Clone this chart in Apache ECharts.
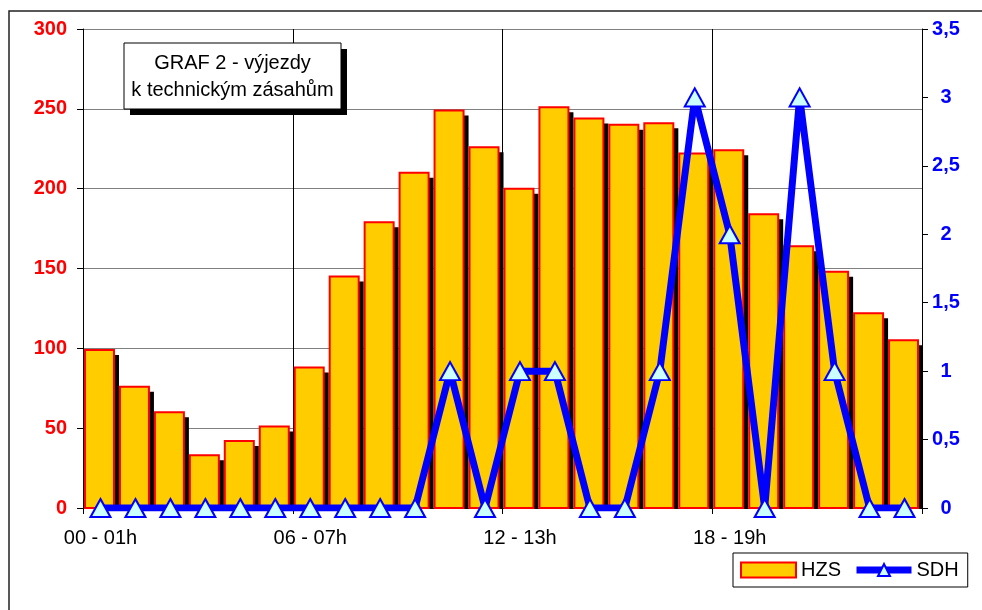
<!DOCTYPE html>
<html>
<head>
<meta charset="utf-8">
<script src="https://cdn.jsdelivr.net/npm/echarts@6/dist/echarts.min.js"></script>
<style>
html,body{margin:0;padding:0;background:#fff;}
#c{width:982px;height:610px;}
</style>
</head>
<body>
<div id="c"></div>
<script>
var categories = ['00 - 01h','01 - 02h','02 - 03h','03 - 04h','04 - 05h','05 - 06h','06 - 07h','07 - 08h','08 - 09h','09 - 10h','10 - 11h','11 - 12h','12 - 13h','13 - 14h','14 - 15h','15 - 16h','16 - 17h','17 - 18h','18 - 19h','19 - 20h','20 - 21h','21 - 22h','22 - 23h','23 - 24h'];
var hzs = [99, 76, 60, 33, 42, 51, 88, 145, 179, 210, 249, 226, 200, 251, 244, 240, 241, 222, 224, 184, 164, 148, 122, 105];
var sdh = [0, 0, 0, 0, 0, 0, 0, 0, 0, 0, 1, 0, 1, 1, 0, 0, 1, 3, 2, 0, 3, 1, 0, 0];
var titleLines = ['GRAF 2 - výjezdy', 'k technickým zásahům'];

var FONT = '"Liberation Sans", Arial, sans-serif';
var BAR_W = 29, SH = 5;
var chart = echarts.init(document.getElementById('c'), null, {renderer: 'canvas'});

function renderBar(params, api) {
  var idx = api.value(0), v = api.value(1);
  var top = api.coord([idx, v]);
  var base = api.coord([idx, 0]);
  var cx = top[0] - 1;
  var h = base[1] - top[1];
  return {
    type: 'group',
    children: [
      {type: 'rect', shape: {x: cx - BAR_W / 2 + SH, y: top[1] + SH, width: BAR_W, height: Math.max(0, h - SH)}, style: {fill: '#000'}},
      {type: 'rect', shape: {x: cx - BAR_W / 2, y: top[1], width: BAR_W, height: h}, style: {fill: '#FFCC00', stroke: '#FF0000', lineWidth: 2}}
    ]
  };
}

chart.setOption({
  animation: false,
  backgroundColor: '#fff',
  grid: {left: 83, right: 60, top: 29, bottom: 102, containLabel: false},
  legend: {
    left: 733, top: 553,
    orient: 'horizontal',
    itemWidth: 55, itemHeight: 15, itemGap: 12,
    padding: [7, 9, 7, 7],
    borderColor: '#000', borderWidth: 1,
    backgroundColor: '#fff',
    textStyle: {fontFamily: FONT, fontSize: 20, color: '#000'},
    data: [
      {name: 'HZS', icon: 'rect', itemStyle: {color: '#FFCC00', borderColor: '#FF0000', borderWidth: 2}},
      {name: 'SDH', lineStyle: {color: '#0000FF', width: 7}, itemStyle: {color: '#CCFFFF', borderColor: '#0000FF', borderWidth: 2}}
    ]
  },
  xAxis: {
    type: 'category',
    data: categories,
    boundaryGap: true,
    axisLine: {lineStyle: {color: '#000', width: 1}},
    axisTick: {show: true, interval: 5, length: 6, lineStyle: {color: '#000'}},
    axisLabel: {interval: 5, margin: 20, fontFamily: FONT, fontSize: 20, color: '#000'},
    splitLine: {show: true, interval: 5, lineStyle: {color: '#000', width: 1}}
  },
  yAxis: [{
    type: 'value', min: 0, max: 300, interval: 50, position: 'left',
    axisLine: {show: true, lineStyle: {color: '#000', width: 1}},
    axisTick: {show: true, length: 6, lineStyle: {color: '#000'}},
    axisLabel: {margin: 16, fontFamily: FONT, fontSize: 20, fontWeight: 'bold', color: '#FF0000'},
    splitLine: {show: true, lineStyle: {color: '#808080', width: 1}}
  }, {
    type: 'value', min: 0, max: 3.5, interval: 0.5, position: 'right',
    axisLine: {show: true, lineStyle: {color: '#000', width: 1}},
    axisTick: {show: true, length: 6, lineStyle: {color: '#000'}},
    axisLabel: {margin: 24, align: 'center', fontFamily: FONT, fontSize: 20, fontWeight: 'bold', color: '#0000FF',
      formatter: function (v) { return String(v).replace('.', ','); }},
    splitLine: {show: false}
  }],
  series: [{
    name: 'HZS', type: 'custom', yAxisIndex: 0,
    data: hzs.map(function (v, i) { return [i, v]; }),
    encode: {x: 0, y: 1},
    renderItem: renderBar,
    itemStyle: {color: '#FFCC00', borderColor: '#FF0000', borderWidth: 2},
    z: 2
  }, {
    name: 'SDH', type: 'line', yAxisIndex: 1,
    data: sdh,
    symbol: 'triangle', symbolSize: [20, 18], showAllSymbol: true,
    lineStyle: {color: '#0000FF', width: 7},
    itemStyle: {color: '#CCFFFF', borderColor: '#0000FF', borderWidth: 2},
    z: 5
  }],
  graphic: [
    {type: 'rect', z: 100, shape: {x: 9, y: 11, width: 1200, height: 1200}, style: {fill: 'none', stroke: '#222', lineWidth: 1.5}},
    {type: 'rect', z: 100, shape: {x: 130, y: 49, width: 217, height: 66}, style: {fill: '#000'}},
    {type: 'rect', z: 101, shape: {x: 124, y: 43, width: 217, height: 66}, style: {fill: '#fff', stroke: '#000', lineWidth: 1}},
    {type: 'text', z: 102, x: 232.5, y: 63, style: {text: titleLines[0], fill: '#000', font: '20px ' + FONT, align: 'center', verticalAlign: 'middle'}},
    {type: 'text', z: 102, x: 232.5, y: 90, style: {text: titleLines[1], fill: '#000', font: '20px ' + FONT, align: 'center', verticalAlign: 'middle'}}
  ]
});
</script>
</body>
</html>
